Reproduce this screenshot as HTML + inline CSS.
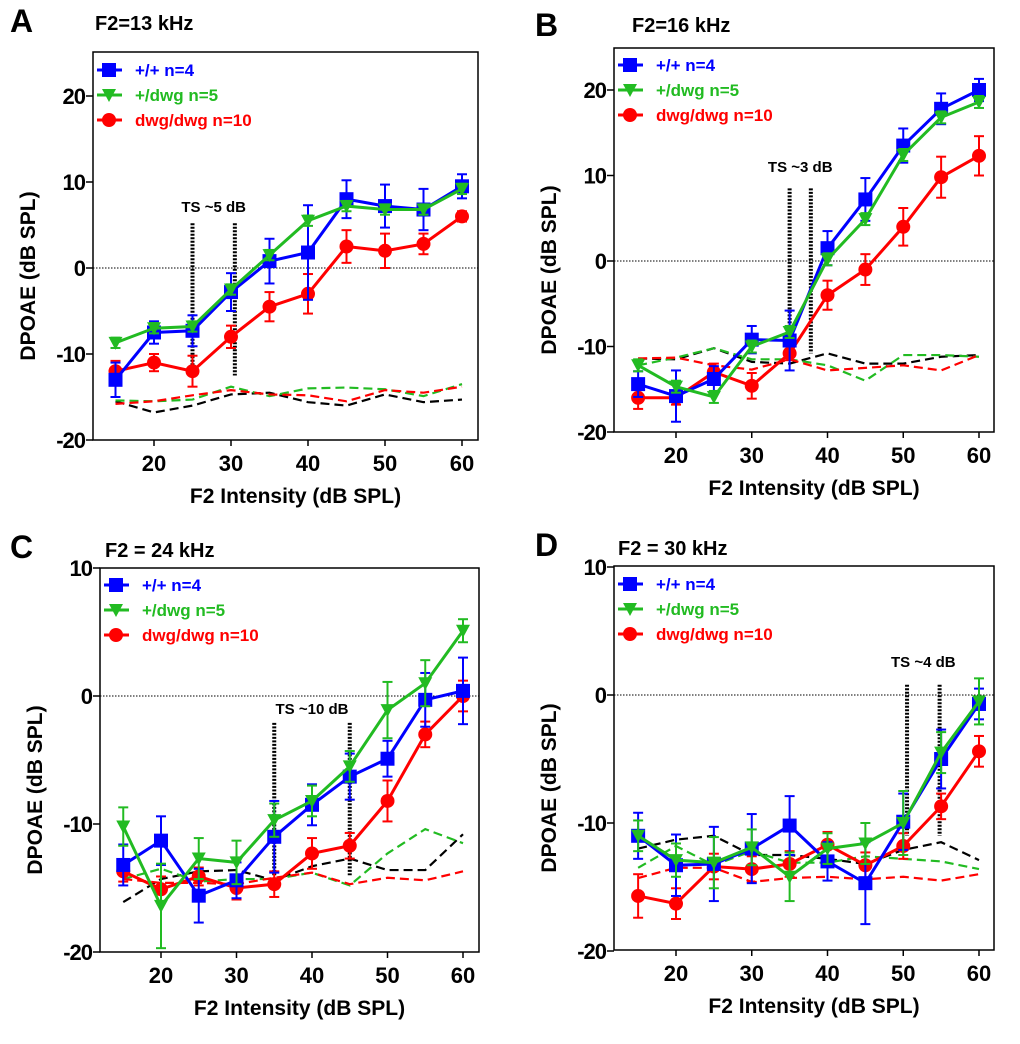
<!DOCTYPE html>
<html><head><meta charset="utf-8">
<style>
body{margin:0;background:#fff;}
svg text{font-family:"Liberation Sans",Arial,sans-serif;font-weight:bold;}
</style></head>
<body>
<svg id="fig" width="1020" height="1039" viewBox="0 0 1020 1039" xmlns="http://www.w3.org/2000/svg"></svg>
<script>
const xVals=[15,20,25,30,35,40,45,50,55,60];
const xTicks=[20,30,40,50,60];
const seriesNames=["+/+ n=4","+/dwg n=5","dwg/dwg n=10"];
// Panel A
const aBlue=[-13,-7.5,-7.3,-2.8,0.8,1.8,8,7.2,6.8,9.5];
const aBlueErr=[2,1.3,1.8,2.2,2.6,5.5,2.2,2.5,2.4,1.4];
const aGreen=[-8.7,-7,-6.8,-2.5,1.5,5.5,7.2,6.8,6.8,9.2];
const aGreenErr=[0.6,0.6,0.6,0.6,0.6,0.6,0.6,0.6,0.6,0.6];
const aRed=[-12,-11,-12,-8,-4.5,-3,2.5,2,2.8,6];
const aRedErr=[1.2,1,1.8,1.3,1.7,2.3,1.9,2,1.2,0.6];
const aNoiseBlack=[-15.5,-16.8,-16,-14.7,-14.5,-15.6,-16,-14.7,-15.6,-15.3];
const aNoiseGreen=[-15.4,-15.5,-15.3,-13.8,-14.9,-14,-13.9,-14.1,-14.9,-13.5];
const aNoiseRed=[-15.8,-15.5,-14.8,-14.2,-14.7,-14.8,-15.5,-14.2,-14.5,-13.8];
const aYTicks=[-20,-10,0,10,20];
// Panel B
const bBlue=[-14.4,-15.8,-13.8,-9.2,-9.3,1.5,7.2,13.5,17.8,20];
const bBlueErr=[1.5,3,1.5,1.6,3.5,2,2.5,2,1.8,1.3];
const bGreen=[-12.2,-14.7,-15.9,-10,-8.3,0.2,4.9,12.4,16.8,18.6];
const bGreenErr=[0.7,0.7,0.7,0.7,0.7,0.7,0.7,0.7,0.7,0.7];
const bRed=[-16,-16,-13,-14.6,-10.8,-4,-1,4,9.8,12.3];
const bRedErr=[1.3,0.8,1,1.5,0.8,1.7,1.8,2.2,2.4,2.3];
const bNoiseBlack=[-11.4,-11.5,-10.2,-11.8,-12,-10.8,-12,-12,-11.2,-11];
const bNoiseGreen=[-12.2,-11.3,-10.2,-11.5,-11.5,-12.2,-14,-11,-11,-11.2];
const bNoiseRed=[-11.4,-11.3,-12.2,-12.7,-11.5,-12.8,-12.5,-12.2,-12.8,-11];
const bYTicks=[-20,-10,0,10,20];
// Panel C
const cBlue=[-13.2,-11.3,-15.6,-14.4,-11,-8.5,-6.3,-4.9,-0.3,0.4];
const cBlueErr=[1.6,1.9,2.1,1.4,2.8,1.6,1.8,1.4,2.1,2.6];
const cGreen=[-10.2,-16.4,-12.7,-13,-9.7,-8.2,-5.5,-1.1,1,5.1];
const cGreenErr=[1.5,3.3,1.6,1.7,1.3,1.2,1.2,2.2,1.8,0.9];
const cRed=[-13.7,-15.1,-14.1,-15,-14.7,-12.3,-11.7,-8.2,-3,0];
const cRedErr=[0.8,1,0.7,0.9,1,1.2,1,1.6,1,1.2];
const cNoiseBlack=[-16.1,-14.3,-13.7,-13.6,-14.4,-13.3,-12.7,-13.6,-13.6,-10.8];
const cNoiseGreen=[-14.3,-13.5,-14.5,-14.3,-14.3,-13.8,-14.8,-12.3,-10.4,-11.5];
const cNoiseRed=[-14.3,-14.6,-14.6,-14.7,-14.2,-13.8,-14.7,-14.2,-14.4,-13.7];
const cYTicks=[-20,-10,0,10];
// Panel D
const dBlue=[-11,-13.3,-13.2,-12,-10.2,-13,-14.7,-9.9,-5,-0.7];
const dBlueErr=[1.8,2.4,2.9,2.7,2.3,1.5,3.2,2.2,2.3,1.2];
const dGreen=[-11,-12.9,-13.1,-11.9,-14.2,-12,-11.6,-10,-4.5,-0.5];
const dGreenErr=[1.2,1.3,2,1.4,1.9,1.2,1.6,2.5,1.6,1.8];
const dRed=[-15.7,-16.3,-13.4,-13.6,-13.2,-11.7,-13.3,-11.8,-8.7,-4.4];
const dRedErr=[1.7,1.2,1,1,1,1,1,1,1,1.2];
const dNoiseBlack=[-12,-11.3,-11,-12.5,-12.5,-12.8,-13.2,-12.1,-11.5,-12.9];
const dNoiseGreen=[-13.5,-11.8,-13.3,-12.2,-13.1,-13.1,-12.6,-12.8,-13,-13.6];
const dNoiseRed=[-14.3,-13.5,-13.5,-14.6,-14.3,-14.2,-14.4,-14.2,-14.5,-14];
const dYTicks=[-20,-10,0,10];

const NS="http://www.w3.org/2000/svg";
const svg=document.getElementById('fig');
const BLUE="#0000ff",GREEN="#22bb22",RED="#ff0000";
function mk(tag,attrs,parent,txt){const e=document.createElementNS(NS,tag);for(const k in attrs)e.setAttribute(k,attrs[k]);if(txt!==undefined)e.textContent=txt;(parent||svg).appendChild(e);return e;}

const panels=[
 {id:'a',letter:'A',title:'F2=13 kHz',lx:10,ly:32,tx:95,ty:30,box:[93,52,478,440],x20:154,x60:462,y0:268,ppd:8.6,yt:aYTicks,
  b:aBlue,be:aBlueErr,g:aGreen,ge:aGreenErr,r:aRed,re:aRedErr,nk:aNoiseBlack,ng:aNoiseGreen,nr:aNoiseRed,
  ts:{x1:25,x2:30.5,top:5.2,bot:-12.5,label:'TS ~5 dB',ly:6.5},leg:[97,70]},
 {id:'b',letter:'B',title:'F2=16 kHz',lx:535,ly:36,tx:632,ty:32,box:[614,48,994,432],x20:676,x60:979,y0:261,ppd:8.55,yt:bYTicks,
  b:bBlue,be:bBlueErr,g:bGreen,ge:bGreenErr,r:bRed,re:bRedErr,nk:bNoiseBlack,ng:bNoiseGreen,nr:bNoiseRed,
  ts:{x1:35,x2:37.8,top:8.5,bot:-10.8,label:'TS ~3 dB',ly:10.4},leg:[618,65]},
 {id:'c',letter:'C',title:'F2 = 24 kHz',lx:10,ly:558,tx:105,ty:557,box:[100,568,479,952],x20:161,x60:463,y0:696,ppd:12.8,yt:cYTicks,
  b:cBlue,be:cBlueErr,g:cGreen,ge:cGreenErr,r:cRed,re:cRedErr,nk:cNoiseBlack,ng:cNoiseGreen,nr:cNoiseRed,
  ts:{x1:35,x2:45,top:-2.1,bot:-14,label:'TS ~10 dB',ly:-1.4},leg:[104,585]},
 {id:'d',letter:'D',title:'F2 = 30 kHz',lx:535,ly:556,tx:618,ty:555,box:[614,566,994,950],x20:676,x60:979,y0:695,ppd:12.8,yt:dYTicks,
  b:dBlue,be:dBlueErr,g:dGreen,ge:dGreenErr,r:dRed,re:dRedErr,nk:dNoiseBlack,ng:dNoiseGreen,nr:dNoiseRed,
  ts:{x1:50.5,x2:54.8,top:0.8,bot:-11,label:'TS ~4 dB',ly:2.2},leg:[618,584]}
];

function marker(g,shape,cx,cy,col){
  if(shape==='sq')return mk('rect',{x:cx-7,y:cy-7,width:14,height:14,fill:col},g);
  if(shape==='tri')return mk('polygon',{points:`${cx-7},${cy-6} ${cx+7},${cy-6} ${cx},${cy+7}`,fill:col},g);
  return mk('circle',{cx:cx,cy:cy,r:7,fill:col},g);
}

panels.forEach(p=>{
  const X=v=>p.x20+(v-20)*(p.x60-p.x20)/40;
  const Y=v=>p.y0-v*p.ppd;
  const [L,T,R,B]=p.box;
  const g=mk('g',{});
  
  
  const lt=mk('text',{x:p.lx,y:p.ly,'font-size':32,fill:'#000'},g,p.letter);
  
  
  const tt=mk('text',{x:p.tx,y:p.ty,'font-size':20,fill:'#000'},g,p.title);
  
  
  const fr=mk('rect',{x:L,y:T,width:R-L,height:B-T,fill:'none',stroke:'#000','stroke-width':1.5},g);
  
  
  const zl=mk('line',{x1:L,x2:R,y1:Y(0),y2:Y(0),stroke:'#000','stroke-width':1,'stroke-dasharray':'1.5,1.5'},g);
  
  
  p.yt.forEach(v=>{
    mk('line',{x1:L-7,x2:L,y1:Y(v),y2:Y(v),stroke:'#000','stroke-width':1.5},g);
    const t=mk('text',{x:L-8,y:Y(v)+8,'font-size':22,'text-anchor':'end',fill:'#000','letter-spacing':'-1'},g,String(v));
    
    
  });
  xTicks.forEach(v=>{
    mk('line',{x1:X(v),x2:X(v),y1:B,y2:B+6,stroke:'#000','stroke-width':1.5},g);
    const t=mk('text',{x:X(v),y:B+31,'font-size':22,'text-anchor':'middle',fill:'#000'},g,String(v));
    
    
  });
  const xt=mk('text',{x:(L+R)/2+10,y:B+63,'font-size':21,'text-anchor':'middle',fill:'#000'},g,'F2 Intensity (dB SPL)');
  
  
  const ycx=L-58, ycy=(T+B)/2+30;
  const yt=mk('text',{x:ycx,y:ycy,'font-size':21,'text-anchor':'middle',fill:'#000',transform:`rotate(-90 ${ycx} ${ycy})`},g,'DPOAE (dB SPL)');
  
  
  [[p.nk,'#000','black'],[p.ng,GREEN,'green'],[p.nr,RED,'red']].forEach(([arr,col,nm])=>{
    const pl=mk('polyline',{points:arr.map((v,i)=>X(xVals[i])+','+Y(v)).join(' '),fill:'none',stroke:col,'stroke-width':2.2,'stroke-dasharray':'9,5'},g);
    
    
  });
  [p.ts.x1,p.ts.x2].forEach(xv=>{
    const l=mk('line',{x1:X(xv),x2:X(xv),y1:Y(p.ts.top),y2:Y(p.ts.bot),stroke:'#000','stroke-width':4,'stroke-dasharray':'2,1.5'},g);
    
    
  });
  const tsl=mk('text',{x:(X(p.ts.x1)+X(p.ts.x2))/2,y:Y(p.ts.ly),'font-size':15,'text-anchor':'middle',fill:'#000'},g,p.ts.label);
  
  
  const ser=[[p.b,p.be,BLUE,'sq','wt'],[p.g,p.ge,GREEN,'tri','het'],[p.r,p.re,RED,'circ','dwg']];
  [2,0,1].forEach(si=>{
    const [vals,errs,col,shape,nm]=ser[si];
    const sg=mk('g',{},g);
    
    
    vals.forEach((v,i)=>{
      const x=X(xVals[i]);
      mk('line',{x1:x,x2:x,y1:Y(v-errs[i]),y2:Y(v+errs[i]),stroke:col,'stroke-width':2},sg);
      mk('line',{x1:x-5,x2:x+5,y1:Y(v-errs[i]),y2:Y(v-errs[i]),stroke:col,'stroke-width':2},sg);
      mk('line',{x1:x-5,x2:x+5,y1:Y(v+errs[i]),y2:Y(v+errs[i]),stroke:col,'stroke-width':2},sg);
    });
    mk('polyline',{points:vals.map((v,i)=>X(xVals[i])+','+Y(v)).join(' '),fill:'none',stroke:col,'stroke-width':3},sg);
    vals.forEach((v,i)=>{
      const m=marker(sg,shape,X(xVals[i]),Y(v),col);
      
      
    });
  });
  const lg=mk('g',{},g);
  
  
  ser.forEach(([v,e,col,shape,nm],i)=>{
    const y=p.leg[1]+i*25;
    mk('line',{x1:p.leg[0],x2:p.leg[0]+25,y1:y,y2:y,stroke:col,'stroke-width':3},lg);
    marker(lg,shape,p.leg[0]+12,y,col);
    const t=mk('text',{x:p.leg[0]+38,y:y+6,'font-size':17,fill:col},lg,seriesNames[i]);
    
    
  });
});
</script>
</body></html>
